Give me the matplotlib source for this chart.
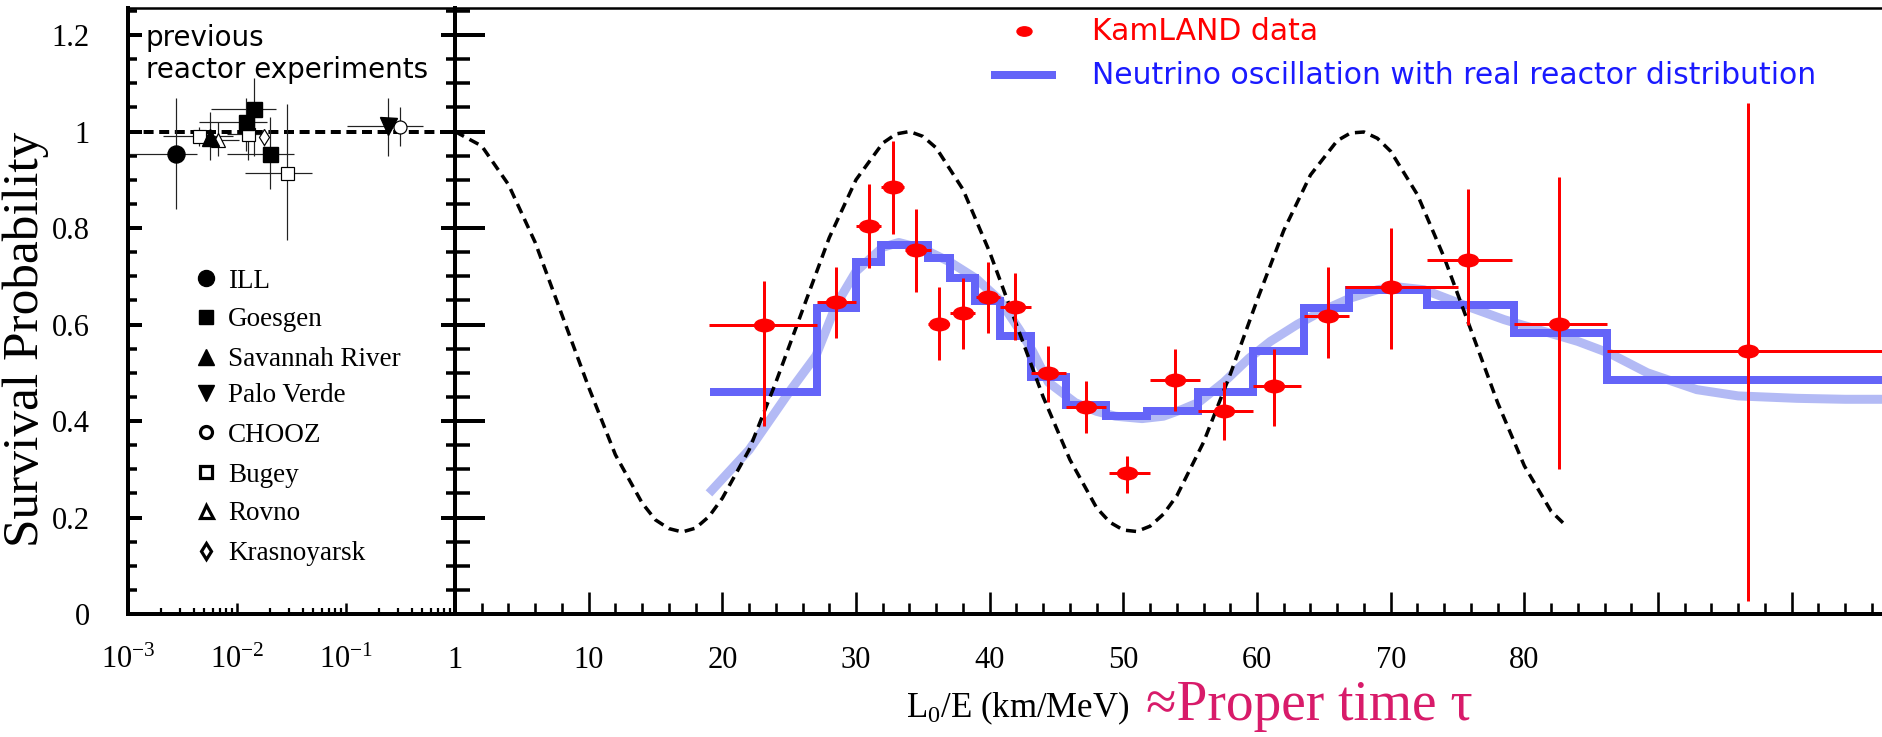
import numpy as np
import matplotlib
matplotlib.use('Agg')
import matplotlib.pyplot as plt
from matplotlib.path import Path
from matplotlib.transforms import Affine2D
from matplotlib.lines import Line2D
from matplotlib.ticker import FixedLocator, FixedFormatter, MultipleLocator, LogLocator, NullFormatter

# ---------------- data ----------------
# previous reactor experiments (x = L/E in km/MeV, log axis)
ill_x, ill_p = [2.75e-3], [0.954]
ill_xlo, ill_xhi, ill_plo, ill_phi = [1.0e-3], [4.3e-3], [0.84], [1.07]

goe_x = [1.2e-2, 1.43e-2, 2.0e-2]
goe_p = [1.019, 1.046, 0.954]
goe_xlo = [4.5e-3, 5.8e-3, 8.1e-3]
goe_xhi = [1.9e-2, 2.3e-2, 3.3e-2]
goe_plo = [0.96, 0.95, 0.88]
goe_phi = [1.07, 1.11, 1.03]

sav_x, sav_p = [5.6e-3], [0.989]
sav_xlo, sav_xhi, sav_plo, sav_phi = [4.6e-3], [6.9e-3], [0.94], [1.04]

rov_x, rov_p = [6.7e-3], [0.983]
rov_xlo, rov_xhi, rov_plo, rov_phi = [5.2e-3], [1.05e-2], [0.95], [1.02]

bug_x = [4.5e-3, 1.26e-2, 2.9e-2]
bug_p = [0.99, 0.994, 0.915]
bug_xlo = [2.1e-3, 8.1e-3, 1.18e-2]
bug_xhi = [9.2e-3, 1.9e-2, 4.9e-2]
bug_plo = [0.97, 0.94, 0.776]
bug_phi = [1.01, 1.04, 1.056]

kra_x, kra_p = [1.77e-2], [0.988]
kra_xlo, kra_xhi, kra_plo, kra_phi = [1.6e-2], [1.95e-2], [0.97], [1.005]

pv_x, pv_p = [0.243], [1.012]
pv_xlo, pv_xhi, pv_plo, pv_phi = [0.102], [0.51], [0.95], [1.07]

ch_x, ch_p = [0.31], [1.01]
ch_xlo, ch_xhi, ch_plo, ch_phi = [0.28], [0.34], [0.97], [1.05]

legend_names = ['ILL', 'Goesgen', 'Savannah River', 'Palo Verde', 'CHOOZ', 'Bugey', 'Rovno', 'Krasnoyarsk']

# KamLAND data (L0/E in km/MeV)
kl_x   = [23.1, 28.5, 31.0, 32.8, 34.5, 36.2, 38.0, 39.9, 41.9, 44.4, 47.2, 50.3, 53.9, 57.5, 61.3, 65.3, 70.0, 75.8, 82.6, 96.7]
kl_p   = [0.600, 0.646, 0.805, 0.884, 0.755, 0.602, 0.623, 0.656, 0.637, 0.500, 0.430, 0.293, 0.486, 0.420, 0.473, 0.617, 0.677, 0.734, 0.602, 0.545]
kl_xlo = [19.0, 27.1, 30.0, 31.9, 33.7, 35.4, 37.0, 39.0, 40.8, 43.1, 45.7, 48.9, 52.0, 55.6, 59.7, 63.5, 66.6, 72.7, 79.2, 86.2]
kl_xhi = [27.1, 30.0, 31.9, 33.6, 35.6, 36.9, 38.9, 40.8, 43.1, 45.7, 48.7, 52.0, 55.7, 59.7, 63.3, 66.9, 75.0, 79.1, 86.2, 115.0]
kl_plo = [0.39, 0.573, 0.718, 0.787, 0.668, 0.527, 0.55, 0.583, 0.567, 0.44, 0.376, 0.25, 0.42, 0.36, 0.39, 0.53, 0.55, 0.60, 0.30, 0.026]
kl_phi = [0.69, 0.72, 0.892, 0.98, 0.84, 0.678, 0.697, 0.730, 0.706, 0.556, 0.482, 0.328, 0.55, 0.48, 0.55, 0.72, 0.80, 0.88, 0.905, 1.06]

# oscillation with real reactor distribution (binned)
step_edges = [19.05, 27.1, 30.0, 31.9, 35.4, 37.0, 38.9, 40.8, 43.1, 45.7, 48.7, 51.8, 55.6, 59.7, 63.5, 66.9, 72.7, 79.2, 86.2, 110.0]
step_vals  = [0.461, 0.635, 0.73, 0.764, 0.737, 0.697, 0.648, 0.577, 0.492, 0.434, 0.41, 0.42, 0.46, 0.545, 0.635, 0.672, 0.64, 0.583, 0.486]

# smooth expectation curve
sm_x = [19, 20, 22, 24, 25, 27, 28.5, 30, 32, 33.2, 35, 37, 39, 40.7, 42.2, 43.2, 44.4, 46.4, 48, 49.4, 51.4, 53, 54.4, 55.6,
        57.5, 59.4, 61, 63, 65, 67, 69, 70.5, 72.5, 75.8, 78.5, 81.8, 84, 86.4, 89.2, 92.9, 96, 100.4, 104, 110]
sm_p = [0.25, 0.28, 0.34, 0.42, 0.46, 0.535, 0.64, 0.71, 0.76, 0.77, 0.757, 0.73, 0.695, 0.652, 0.59, 0.545, 0.48, 0.438, 0.42, 0.41,
        0.405, 0.41, 0.424, 0.438, 0.48, 0.53, 0.565, 0.60, 0.63, 0.655, 0.672, 0.678, 0.672, 0.637, 0.61, 0.583, 0.565, 0.54, 0.50,
        0.465, 0.452, 0.447, 0.445, 0.445]

# pure two-flavour oscillation (dashed)
osc_x = [0, 2, 4, 6, 8, 10, 12, 14, 15, 16, 17, 18, 19, 20, 22, 24, 26, 28, 30, 32, 33, 34, 35, 36, 38, 40, 42, 44, 46, 48,
         49, 50, 51, 52, 53, 54, 56, 58, 60, 62, 64, 66, 67, 68, 69, 70, 72, 74, 76, 78, 80, 82, 83]
osc_p = [1.00, 0.97, 0.89, 0.77, 0.62, 0.47, 0.33, 0.23, 0.195, 0.177, 0.170, 0.178, 0.202, 0.24, 0.34, 0.48, 0.63, 0.78, 0.90,
         0.976, 0.995, 1.00, 0.99, 0.966, 0.88, 0.75, 0.60, 0.45, 0.32, 0.22, 0.19, 0.174, 0.171, 0.182, 0.207, 0.245, 0.356,
         0.497, 0.65, 0.795, 0.91, 0.981, 0.997, 0.999, 0.986, 0.959, 0.869, 0.739, 0.589, 0.438, 0.307, 0.213, 0.186]

right_ticks = [10, 20, 30, 40, 50, 60, 70, 80, 90, 100]
right_labels = ['10', '20', '30', '40', '50', '60', '70', '80', '', '']
left_ticks = [1e-3, 1e-2, 1e-1, 1]
left_labels = [r'$\mathregular{10^{-3}}$', r'$\mathregular{10^{-2}}$', r'$\mathregular{10^{-1}}$', '1']
y_ticks = [0, 0.2, 0.4, 0.6, 0.8, 1.0, 1.2]
y_labels = ['0', '0.2', '0.4', '0.6', '0.8', '1', '1.2']

# ---------------- styling ----------------
plt.rcParams['font.family'] = ['Liberation Serif', 'DejaVu Serif']
plt.rcParams['mathtext.fontset'] = 'custom'
plt.rcParams['mathtext.rm'] = 'Liberation Serif'
plt.rcParams['mathtext.it'] = 'Liberation Serif:italic'
plt.rcParams['mathtext.bf'] = 'Liberation Serif:bold'

W, H, DPI = 1882, 737, 100
def px(v):
    return v * 72.0 / DPI
def fx(x):
    return x / W
def fy(y):
    return 1 - y / H

RED = '#ff0000'
STEP = '#6464f8'
SMOOTH = '#b3baf5'
SANS = ['DejaVu Sans']

fig = plt.figure(figsize=(W / DPI, H / DPI), dpi=DPI)
X0, XM, XR = 128, 455, 1882
YT, YB = 8, 614
ax1 = fig.add_axes([fx(X0), fy(YB), (XM - X0) / W, (YB - YT) / H])
ax2 = fig.add_axes([fx(XM), fy(YB), (XR - XM) / W, (YB - YT) / H])
YMAX = 1.256

# ---------------- left panel ----------------
ax1.set_xscale('log')
ax1.set_xlim(1e-3, 1)
ax1.set_ylim(0, YMAX)
ax1.axhline(1.0, color='black', lw=px(4), dashes=(2.5, 1.4))

def eb(ax, x, p, xlo, xhi, plo, phi):
    x = np.array(x); p = np.array(p)
    ax.errorbar(x, p, xerr=[x - np.array(xlo), np.array(xhi) - x],
                yerr=[p - np.array(plo), np.array(phi) - p],
                fmt='none', ecolor='#222222', elinewidth=px(1.2), capsize=0, zorder=2)

eb(ax1, ill_x, ill_p, ill_xlo, ill_xhi, ill_plo, ill_phi)
eb(ax1, goe_x, goe_p, goe_xlo, goe_xhi, goe_plo, goe_phi)
eb(ax1, sav_x, sav_p, sav_xlo, sav_xhi, sav_plo, sav_phi)
eb(ax1, rov_x, rov_p, rov_xlo, rov_xhi, rov_plo, rov_phi)
eb(ax1, bug_x, bug_p, bug_xlo, bug_xhi, bug_plo, bug_phi)
eb(ax1, kra_x, kra_p, kra_xlo, kra_xhi, kra_plo, kra_phi)
eb(ax1, pv_x, pv_p, pv_xlo, pv_xhi, pv_plo, pv_phi)
eb(ax1, ch_x, ch_p, ch_xlo, ch_xhi, ch_plo, ch_phi)

ax1.plot(bug_x, bug_p, ls='none', marker='s', ms=px(13), mfc='white', mec='black', mew=px(1.2), zorder=3)
ax1.plot(rov_x, rov_p, ls='none', marker='^', ms=px(14), mfc='white', mec='black', mew=px(1.2), zorder=3)
ax1.plot(kra_x, kra_p, ls='none', marker='d', ms=px(11), mfc='white', mec='black', mew=px(1.2), zorder=3)
ax1.plot(ch_x, ch_p, ls='none', marker='o', ms=px(13), mfc='white', mec='black', mew=px(1.2), zorder=3)
ax1.plot(ill_x, ill_p, ls='none', marker='o', ms=px(17), color='black', zorder=4)
ax1.plot(goe_x, goe_p, ls='none', marker='s', ms=px(15), color='black', zorder=4)
ax1.plot(sav_x, sav_p, ls='none', marker='^', ms=px(17), color='black', zorder=4)
ax1.plot(pv_x, pv_p, ls='none', marker='v', ms=px(17), color='black', zorder=4)

ax1.set_xticks(left_ticks, labels=left_labels)
ax1.xaxis.set_minor_locator(LogLocator(base=10, subs=np.arange(2, 10)))
ax1.xaxis.set_minor_formatter(NullFormatter())
ax1.yaxis.set_major_locator(FixedLocator(y_ticks))
ax1.yaxis.set_major_formatter(FixedFormatter(y_labels))
ax1.yaxis.set_minor_locator(MultipleLocator(0.05))
ax1.tick_params(axis='x', which='major', direction='in', length=px(11), width=px(2.5),
                labelsize=22, pad=px(54))
ax1.tick_params(axis='x', which='minor', direction='in', length=px(6), width=px(2.2))
ax1.tick_params(axis='y', which='major', direction='in', length=px(14), width=px(4),
                left=True, right=True, labelsize=22, pad=px(38))
ax1.tick_params(axis='y', which='minor', direction='in', length=px(9), width=px(3.5),
                left=True, right=True)
for s in ['left', 'bottom', 'right']:
    ax1.spines[s].set_linewidth(px(4))
ax1.spines['top'].set_linewidth(px(2.5))

# legend of left panel
leg_markers = [('o', True, 16), ('s', True, 14), ('^', True, 16), ('v', True, 16),
               ('o', False, 12), ('s', False, 12), ('^', False, 13), ('d', False, 11)]
row_y = [278, 317, 357, 393, 432, 472, 511, 551]
for (m, filled, size), name, yy in zip(leg_markers, legend_names, row_y):
    if filled:
        ln = Line2D([fx(206)], [fy(yy)], ls='none', marker=m, ms=px(size), color='black',
                    transform=fig.transFigure)
    else:
        ln = Line2D([fx(206)], [fy(yy)], ls='none', marker=m, ms=px(size), mfc='white',
                    mec='black', mew=px(3.2), transform=fig.transFigure)
    fig.add_artist(ln)
    fig.text(fx(228), fy(yy), name, fontsize=19.5, ha='left', va='center_baseline')

fig.text(fx(146), fy(38), 'previous', fontsize=20, family=SANS, ha='left', va='center')
fig.text(fx(146), fy(70), 'reactor experiments', fontsize=20, family=SANS, ha='left', va='center')

# ---------------- right panel ----------------
ax2.set_xlim(0, (XR - XM) / 13.367)
ax2.set_ylim(0, YMAX)

ax2.plot(sm_x, sm_p, color=SMOOTH, lw=px(9), solid_capstyle='butt', zorder=2)
st = ax2.stairs(step_vals, step_edges, baseline=None, color=STEP, lw=px(8), zorder=3)
st.set_joinstyle('miter')
ax2.plot(osc_x, osc_p, color='black', lw=px(3.5), dashes=(2.9, 1.8), zorder=4)

kx = np.array(kl_x); kp = np.array(kl_p)
ax2.errorbar(kx, kp, xerr=[kx - np.array(kl_xlo), np.array(kl_xhi) - kx],
             yerr=[kp - np.array(kl_plo), np.array(kl_phi) - kp],
             fmt='none', ecolor=RED, elinewidth=px(3), capsize=0, zorder=5)
ellipse = Path.unit_circle().transformed(Affine2D().scale(1.6, 1.0))
ax2.plot(kx, kp, ls='none', marker=ellipse, ms=px(20), color=RED, zorder=6)

ax2.xaxis.set_major_locator(FixedLocator(right_ticks))
ax2.xaxis.set_major_formatter(FixedFormatter(right_labels))
ax2.xaxis.set_minor_locator(MultipleLocator(2))
ax2.yaxis.set_major_locator(FixedLocator(y_ticks))
ax2.yaxis.set_minor_locator(MultipleLocator(0.05))
ax2.tick_params(axis='x', which='major', direction='in', length=px(22), width=px(2.6),
                labelsize=22, pad=px(54), top=False)
ax2.tick_params(axis='x', which='minor', direction='in', length=px(11), width=px(2.6), top=False)
ax2.tick_params(axis='y', which='major', direction='in', length=px(30), width=px(4),
                labelleft=False, right=False)
ax2.tick_params(axis='y', which='minor', direction='in', length=px(15), width=px(3.5), right=False)
ax2.spines['right'].set_visible(False)
ax2.spines['left'].set_linewidth(px(4))
ax2.spines['bottom'].set_linewidth(px(4))
ax2.spines['top'].set_linewidth(px(2.5))

# top legend
fig.add_artist(Line2D([fx(1024)], [fy(31)], ls='none', marker=ellipse, ms=px(15), color=RED,
                      transform=fig.transFigure))
fig.add_artist(Line2D([fx(991), fx(1056)], [fy(75), fy(75)], color=STEP, lw=px(8),
                      solid_capstyle='butt', transform=fig.transFigure))
fig.text(fx(1092), fy(31), 'KamLAND data', color=RED, fontsize=21.5, family=SANS, ha='left', va='center')
fig.text(fx(1092), fy(75), 'Neutrino oscillation with real reactor distribution', color='#1a1aff',
         fontsize=21.5, family=SANS, ha='left', va='center')

# axis labels
fig.text(fx(26), fy(339), 'Survival Probability', rotation=90, fontsize=37, ha='center', va='center')
fig.text(fx(906), fy(708), r'L$_0$/E (km/MeV)', fontsize=25, ha='left', va='center')
fig.text(fx(1146), fy(706), '\u2248Proper time \u03c4', color='#d81b6a', fontsize=40, ha='left', va='center')

for ax in (ax1, ax2):
    for t in ax.xaxis.get_major_ticks():
        t.label1.set_verticalalignment('baseline')

fig.savefig('out.png', dpi=DPI)
